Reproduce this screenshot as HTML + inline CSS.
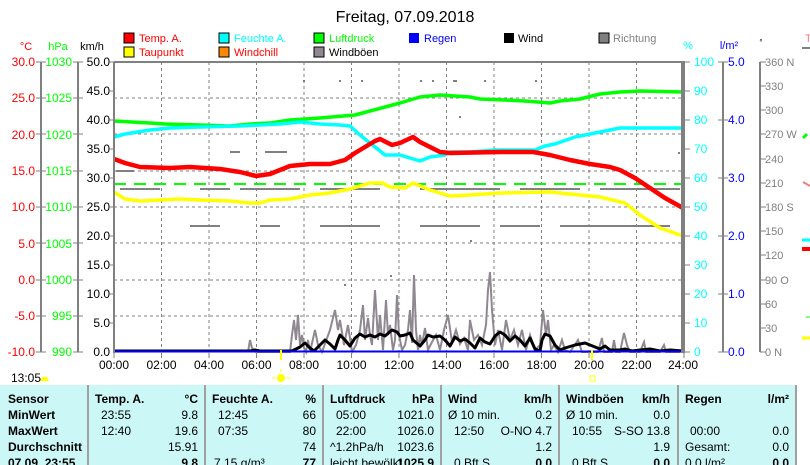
<!DOCTYPE html>
<html><head><meta charset="utf-8"><style>
html,body{margin:0;padding:0;background:#fff;width:810px;height:465px;overflow:hidden}
svg text{font-family:"Liberation Sans",sans-serif}
</style></head><body>
<svg width="810" height="465" viewBox="0 0 810 465" xmlns="http://www.w3.org/2000/svg">
<rect width="810" height="465" fill="#fff"/>
<text x="405" y="22" font-size="16" text-anchor="middle" fill="#000">Freitag, 07.09.2018</text>
<!-- legend -->
<g font-size="11">
<rect x="124" y="33" width="10" height="10" fill="#f00" stroke="#000"/><text x="139" y="42" fill="#f00">Temp. A.</text>
<rect x="124" y="47" width="10" height="10" fill="#ff0" stroke="#000"/><text x="139" y="56" fill="#f00">Taupunkt</text>
<rect x="219" y="33" width="10" height="10" fill="#0ff" stroke="#000"/><text x="234" y="42" fill="#0ff">Feuchte A.</text>
<rect x="219" y="47" width="10" height="10" fill="#f80" stroke="#000"/><text x="234" y="56" fill="#f00">Windchill</text>
<rect x="314" y="33" width="10" height="10" fill="#0f0" stroke="#000"/><text x="329" y="42" fill="#0f0">Luftdruck</text>
<rect x="314" y="47" width="10" height="10" fill="#8f8890" stroke="#000"/><text x="329" y="56" fill="#000">Windböen</text>
<rect x="409" y="33" width="10" height="10" fill="#00f"/><text x="424" y="42" fill="#00f">Regen</text>
<rect x="504" y="33" width="10" height="10" fill="#000"/><text x="518" y="42" fill="#000">Wind</text>
<rect x="599" y="33" width="10" height="10" fill="#808080" stroke="#000"/><text x="613" y="42" fill="#808080">Richtung</text>
</g>
<!-- axis titles -->
<g font-size="11">
<text x="26" y="50" text-anchor="middle" fill="#f00">°C</text>
<text x="58" y="50" text-anchor="middle" fill="#0f0">hPa</text>
<text x="92" y="50" text-anchor="middle" fill="#000">km/h</text>
<text x="688" y="49" text-anchor="middle" fill="#0ff">%</text>
<text x="729" y="49" text-anchor="middle" fill="#00f">l/m²</text>
<text x="761" y="45" text-anchor="middle" fill="#000" font-size="8">°</text>
<text x="805" y="42" fill="#f08080">T</text>
</g>
<!-- left axes -->
<g stroke="#808080" stroke-width="2" fill="none">
<line x1="41" y1="62" x2="41" y2="352"/><line x1="78" y1="62" x2="78" y2="352"/>
<line x1="723" y1="62" x2="723" y2="352"/><line x1="760" y1="62" x2="760" y2="352"/>
</g>
<g font-size="12" text-anchor="end">
<g fill="#f00">
<text x="35" y="66">30.0</text><text x="35" y="102">25.0</text><text x="35" y="139">20.0</text><text x="35" y="175">15.0</text><text x="35" y="211">10.0</text><text x="35" y="248">5.0</text><text x="35" y="284">0.0</text><text x="35" y="320">-5.0</text><text x="35" y="356">-10.0</text>
</g>
<g fill="#0f0">
<text x="72" y="66">1030</text><text x="72" y="102">1025</text><text x="72" y="139">1020</text><text x="72" y="175">1015</text><text x="72" y="211">1010</text><text x="72" y="248">1005</text><text x="72" y="284">1000</text><text x="72" y="320">995</text><text x="72" y="356">990</text>
</g>
<g fill="#000">
<text x="110" y="66">50.0</text><text x="110" y="95">45.0</text><text x="110" y="124">40.0</text><text x="110" y="153">35.0</text><text x="110" y="182">30.0</text><text x="110" y="211">25.0</text><text x="110" y="240">20.0</text><text x="110" y="269">15.0</text><text x="110" y="298">10.0</text><text x="110" y="327">5.0</text><text x="110" y="356">0.0</text>
</g>
</g>
<g stroke="#808080" stroke-width="1">
<path d="M36 62h10M36 98h10M36 134h10M36 171h10M36 207h10M36 243h10M36 280h10M36 316h10M36 352h10"/>
<path d="M73 62h10M73 98h10M73 134h10M73 171h10M73 207h10M73 243h10M73 280h10M73 316h10M73 352h10"/>
<path d="M110 62h4M110 91h4M110 120h4M110 149h4M110 178h4M110 207h4M110 236h4M110 265h4M110 294h4M110 323h4"/>
<path d="M684 62h6M684 91h6M684 120h6M684 149h6M684 178h6M684 207h6M684 236h6M684 265h6M684 294h6M684 323h6M684 352h6"/>
<path d="M718 62h10M718 120h10M718 178h10M718 236h10M718 294h10M718 352h10"/>
<path d="M760 62h6M760 86h6M760 110h6M760 134h6M760 159h6M760 183h6M760 207h6M760 231h6M760 255h6M760 280h6M760 304h6M760 328h6M760 352h6"/>
</g>
<g font-size="12" fill="#0ff">
<text x="694" y="66">100</text><text x="694" y="95">90</text><text x="694" y="124">80</text><text x="694" y="153">70</text><text x="694" y="182">60</text><text x="694" y="211">50</text><text x="694" y="240">40</text><text x="694" y="269">30</text><text x="694" y="298">20</text><text x="694" y="327">10</text><text x="694" y="356">0</text>
</g>
<g font-size="12" fill="#00f">
<text x="728" y="66">5.0</text><text x="728" y="124">4.0</text><text x="728" y="182">3.0</text><text x="728" y="240">2.0</text><text x="728" y="298">1.0</text><text x="728" y="356">0.0</text>
</g>
<g font-size="11" fill="#808080">
<text x="765" y="66">360 N</text><text x="765" y="90">330</text><text x="765" y="114">300</text><text x="765" y="138">270 W</text><text x="765" y="163">240</text><text x="765" y="187">210</text><text x="765" y="211">180 S</text><text x="765" y="235">150</text><text x="765" y="259">120</text><text x="765" y="284">90  O</text><text x="765" y="308">60</text><text x="765" y="332">30</text><text x="765" y="356">0   N</text>
</g>
<!-- far right markers -->
<g stroke-width="3">
<line x1="802" y1="48" x2="810" y2="48" stroke="#808080" stroke-width="2"/>
<line x1="803" y1="138" x2="807" y2="134" stroke="#0f0"/>
<line x1="803" y1="182" x2="810" y2="186" stroke="#f08080" stroke-width="2"/>
<line x1="802" y1="240" x2="810" y2="240" stroke="#0ff"/>
<line x1="802" y1="249" x2="810" y2="249" stroke="#f00" stroke-width="4"/>
<line x1="802" y1="338" x2="810" y2="338" stroke="#ff0"/>
<line x1="806" y1="317" x2="810" y2="317" stroke="#0f0" stroke-width="1"/>
</g>
<!-- grid -->
<g stroke="#808080" stroke-dasharray="3,3" stroke-width="1">
<path d="M161.5 62V352M209 62V352M256.5 62V352M304 62V352M351.5 62V352M399 62V352M446.5 62V352M494 62V352M541.5 62V352M589 62V352M636.5 62V352"/>
<path d="M114 98H684M114 134H684M114 171H684M114 207H684M114 243H684M114 280H684M114 316H684"/>
</g>
<!-- scattered direction dots -->
<g fill="#808080">
<rect x="303" y="80" width="2" height="2"/><rect x="339" y="80" width="2" height="2"/><rect x="361" y="80" width="2" height="2"/><rect x="432" y="80" width="2" height="2"/><rect x="453" y="80" width="4" height="2"/><rect x="420" y="80" width="2" height="2"/><rect x="484" y="80" width="2" height="2"/><rect x="535" y="80" width="2" height="2"/><rect x="459" y="116" width="2" height="2"/><rect x="678" y="152" width="2" height="2"/>
<rect x="230" y="151" width="10" height="2"/><rect x="265" y="151" width="22" height="2"/><rect x="116" y="170" width="18" height="2"/>
<rect x="120" y="188" width="40" height="2"/><rect x="200" y="188" width="30" height="2"/><rect x="240" y="188" width="60" height="2"/><rect x="320" y="188" width="60" height="2"/><rect x="420" y="188" width="80" height="2"/><rect x="520" y="188" width="60" height="2"/><rect x="600" y="188" width="80" height="2"/>
<rect x="190" y="225" width="30" height="2"/><rect x="260" y="225" width="20" height="2"/><rect x="320" y="225" width="60" height="2"/><rect x="420" y="225" width="60" height="2"/><rect x="500" y="225" width="40" height="2"/><rect x="560" y="225" width="110" height="2"/>
<rect x="344" y="284" width="2" height="2"/><rect x="470" y="240" width="2" height="2"/><rect x="390" y="275" width="2" height="2"/>
</g>
<line x1="114" y1="184" x2="684" y2="184" stroke="#0f0" stroke-width="2" stroke-dasharray="12,8"/>
<!-- series -->
<g fill="none" stroke-linejoin="round" stroke-width="3.5">
<polyline stroke="#0f0" points="114,121 150,123 165,124 200,125 230,126 250,124 270,123 290,120 320,118 355,115 385,107 400,103 410,100 420,97 440,95 470,97 480,99 505,100 525,101 550,103 560,101 580,99 600,94 620,92 640,91 683,92"/>
<polyline stroke="#0ff" points="114,137 125,134 150,130 170,128 200,127 240,126 280,124 300,122 320,124 340,125 350,126 360,135 370,143 380,151 385,155 400,155 420,161 430,157 445,155 450,152 470,152 495,150 535,150 545,146 555,144 575,137 600,132 610,130 620,128 683,128"/>
<polyline stroke="#ff0" points="114,192 125,199 140,201 160,200 180,199 200,200 230,201 250,203 260,203 270,200 290,199 310,195 330,193 350,189 370,183 382,183 390,187 405,188 413,183 430,190 450,196 470,195 500,193 550,192 580,195 600,197 625,203 640,215 660,228 683,236"/>
<polyline stroke="#f00" stroke-width="4.5" points="114,159 125,163 140,167 170,168 190,167 220,169 240,172 256,176 270,174 290,166 310,164 330,164 345,160 355,153 365,147 375,141 380,139 392,145 400,143 413,137 420,142 440,152 450,153 500,152 533,152 550,155 570,160 590,164 610,167 620,170 635,178 650,188 665,198 683,208"/>
</g>
<!-- gusts -->
<polyline fill="none" stroke="#8f8890" stroke-width="2" points="248,352 250,340 252,348 256,352 290,352 292,335 294,320 296,340 298,315 300,345 302,335 304,348 306,352 308,340 310,352 315,330 318,345 322,352 330,330 335,310 338,330 340,320 344,345 348,325 352,352 356,345 360,330 363,305 365,340 368,318 370,335 372,345 375,290 378,340 380,315 383,350 386,300 388,335 390,325 393,350 395,340 397,295 399,335 402,350 405,345 408,330 410,310 412,343 414,275 416,330 418,350 420,335 422,345 425,328 428,350 432,342 436,335 440,350 444,330 448,315 452,342 456,330 460,344 464,338 468,350 470,320 474,340 478,335 482,345 486,325 488,290 490,272 492,310 495,345 498,330 502,350 506,320 510,340 514,330 518,345 522,330 526,350 530,335 535,350 540,345 543,310 546,335 548,320 551,350 554,345 558,352 562,340 565,350 570,352 578,340 582,352 598,352 602,338 604,352 612,352 614,340 616,352 620,352 624,333 627,345 630,352 640,352 644,342 646,352 660,352 664,345 666,352 680,352"/>
<!-- wind -->
<polyline fill="none" stroke="#000" stroke-width="3" stroke-linejoin="round" points="114,351 250,351 255,350 260,351 292,351 300,347 305,343 310,348 314,351 320,345 325,340 330,344 335,349 338,340 340,335 345,340 350,346 355,338 360,334 365,337 370,335 375,337 380,334 385,336 392,330 397,332 400,336 405,335 410,333 413,340 420,346 425,340 428,335 433,337 440,336 445,340 450,346 455,337 460,341 465,339 470,343 475,348 480,338 485,342 490,344 495,336 500,332 505,335 510,341 515,336 520,340 525,346 530,338 535,349 540,351 542,340 545,334 550,336 555,345 560,350 565,348 575,345 585,343 590,345 600,349 605,346 610,350 620,350 625,349 632,351 640,350 650,349 660,351 670,350 683,351"/>
<line x1="114" y1="351.5" x2="684" y2="351.5" stroke="#00f" stroke-width="2"/>
<!-- frame -->
<path d="M114 62H684V353" fill="none" stroke="#808080" stroke-width="2"/>
<line x1="683" y1="62" x2="683" y2="353" stroke="#808080" stroke-width="4"/>
<line x1="114" y1="62" x2="114" y2="353" stroke="#808080" stroke-width="2"/>
<g stroke="#808080"><path d="M114 352v6M161.5 352v6M209 352v6M256.5 352v6M304 352v6M351.5 352v6M399 352v6M446.5 352v6M494 352v6M541.5 352v6M589 352v6M636.5 352v6M684 352v6"/></g>
<g font-size="12" text-anchor="middle" fill="#000">
<text x="114" y="369">00:00</text><text x="161.5" y="369">02:00</text><text x="209" y="369">04:00</text><text x="256.5" y="369">06:00</text><text x="304" y="369">08:00</text><text x="351.5" y="369">10:00</text><text x="399" y="369">12:00</text><text x="446.5" y="369">14:00</text><text x="494" y="369">16:00</text><text x="541.5" y="369">18:00</text><text x="589" y="369">20:00</text><text x="636.5" y="369">22:00</text><text x="683" y="369">24:00</text>
</g>
<line x1="281" y1="350" x2="281" y2="360" stroke="#ff0" stroke-width="2"/>
<line x1="592" y1="350" x2="592" y2="360" stroke="#ff0" stroke-width="2"/>
<circle cx="281" cy="378" r="4" fill="#ff0"/>
<g stroke="#ff0" stroke-width="1"><path d="M275 378h-3M287 378h3M281 372v-3M281 384v3"/></g>
<rect x="590" y="376" width="5" height="5" fill="none" stroke="#ff0"/>
<text x="11" y="382" font-size="12" fill="#000">13:05</text>
<path d="M40 381h9l-2-4h-5z" fill="#ff0"/>
<!-- table -->
<rect x="0" y="385" width="810" height="80" fill="#ccf7f7"/>
<g stroke="#a0a0a0" stroke-width="2"><path d="M88 385V465M205 385V465M323 385V465M441 385V465M559 385V465M678 385V465M796 385V465"/></g>
<rect x="797" y="385" width="13" height="80" fill="#fff"/>
<g font-size="12" fill="#000">
<g font-weight="bold">
<text x="8" y="403">Sensor</text><text x="8" y="419">MinWert</text><text x="8" y="435">MaxWert</text><text x="8" y="451">Durchschnitt</text><text x="8" y="467">07.09. 23:55</text>
<text x="95" y="403">Temp. A.</text><text x="198" y="403" text-anchor="end">°C</text>
<text x="212" y="403">Feuchte A.</text><text x="316" y="403" text-anchor="end">%</text>
<text x="330" y="403">Luftdruck</text><text x="434" y="403" text-anchor="end">hPa</text>
<text x="448" y="403">Wind</text><text x="552" y="403" text-anchor="end">km/h</text>
<text x="566" y="403">Windböen</text><text x="670" y="403" text-anchor="end">km/h</text>
<text x="685" y="403">Regen</text><text x="789" y="403" text-anchor="end">l/m²</text>
<text x="198" y="467" text-anchor="end">9.8</text><text x="316" y="467" text-anchor="end">77</text><text x="434" y="467" text-anchor="end">1025.9</text><text x="552" y="467" text-anchor="end">0.0</text><text x="670" y="467" text-anchor="end">0.0</text><text x="789" y="467" text-anchor="end">0.0</text>
</g>
<text x="101" y="419">23:55</text><text x="198" y="419" text-anchor="end">9.8</text>
<text x="101" y="435">12:40</text><text x="198" y="435" text-anchor="end">19.6</text>
<text x="198" y="451" text-anchor="end">15.91</text>
<text x="218" y="419">12:45</text><text x="316" y="419" text-anchor="end">66</text>
<text x="218" y="435">07:35</text><text x="316" y="435" text-anchor="end">80</text>
<text x="316" y="451" text-anchor="end">74</text><text x="214" y="467">7.15 g/m³</text>
<text x="336" y="419">05:00</text><text x="434" y="419" text-anchor="end">1021.0</text>
<text x="336" y="435">22:00</text><text x="434" y="435" text-anchor="end">1026.0</text>
<text x="330" y="451">^1.2hPa/h</text><text x="434" y="451" text-anchor="end">1023.6</text>
<text x="330" y="467">leicht bewölkt</text>
<text x="448" y="419">Ø 10 min.</text><text x="552" y="419" text-anchor="end">0.2</text>
<text x="454" y="435">12:50</text><text x="552" y="435" text-anchor="end">O-NO 4.7</text>
<text x="552" y="451" text-anchor="end">1.2</text><text x="454" y="467">0 Bft S</text>
<text x="566" y="419">Ø 10 min.</text><text x="670" y="419" text-anchor="end">0.0</text>
<text x="572" y="435">10:55</text><text x="670" y="435" text-anchor="end">S-SO 13.8</text>
<text x="670" y="451" text-anchor="end">1.9</text><text x="572" y="467">0 Bft S</text>
<text x="690" y="435">00:00</text><text x="789" y="435" text-anchor="end">0.0</text>
<text x="685" y="451">Gesamt:</text><text x="789" y="451" text-anchor="end">0.0</text>
<text x="685" y="467">0.0 l/m²</text>
</g>
</svg>
</body></html>
